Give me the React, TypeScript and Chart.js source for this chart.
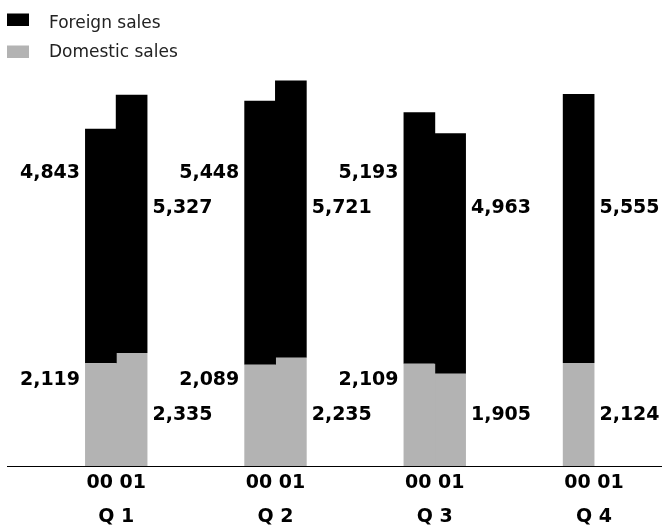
import React, { useEffect, useRef } from "react";
import { Chart, registerables } from "chart.js";

Chart.register(...registerables);

// ---- data ----
const quarters = ["Q 1", "Q 2", "Q 3", "Q 4"];
const years = ["00", "01"];
const domestic00 = [2119, 2089, 2109, 2124];
const foreign00 = [4843, 5448, 5193, 5555];
const domestic01: (number | null)[] = [2335, 2235, 1905, null];
const foreign01: (number | null)[] = [5327, 5721, 4963, null];
const seriesNames = { foreign: "Foreign sales", domestic: "Domestic sales" };

const FOREIGN_COLOR = "#000000";
const DOMESTIC_COLOR = "#b3b3b3";
const FONT = "DejaVu Sans";

const toPoints = (arr: (number | null)[]) => arr.map((y, i) => ({ x: i, y }));

const valueLabelPlugin = {
  id: "valueLabels",
  afterDatasetsDraw(chart: any) {
    const ctx = chart.ctx;
    const bottom = chart.chartArea.bottom;
    const datasets = chart.data.datasets;
    ctx.save();
    ctx.font = `bold 19px "${FONT}"`;
    ctx.fillStyle = "#000";
    ctx.textBaseline = "middle";
    datasets.forEach((ds: any, di: number) => {
      const meta = chart.getDatasetMeta(di);
      meta.data.forEach((bar: any, i: number) => {
        const v = ds.data[i].y;
        if (v == null) return;
        const is01 = ds.stack === years[1];
        const partnerMissing =
          !is01 && datasets.some((o: any) => o.stack === years[1] && o.data[i].y == null);
        const right = is01 || partnerMissing;
        const isForeign = ds.label === seriesNames.foreign;
        const rowOffset = isForeign ? (right ? 258 : 293) : right ? 51 : 86;
        const { x, width } = bar.getProps(["x", "width"], true);
        ctx.textAlign = right ? "left" : "right";
        ctx.fillText(
          v.toLocaleString("en-US"),
          right ? x + width / 2 + 5 : x - width / 2 - 5,
          bottom - rowOffset
        );
      });
    });
    ctx.restore();
  },
};

const legendPlugin = {
  id: "customLegend",
  afterDraw(chart: any) {
    const ctx = chart.ctx;
    const seen: { label: string; color: string }[] = [];
    chart.data.datasets.forEach((ds: any) => {
      if (!seen.find((s) => s.label === ds.label)) seen.push({ label: ds.label, color: ds.backgroundColor });
    });
    seen.reverse();
    ctx.save();
    ctx.font = `17px "${FONT}"`;
    ctx.textBaseline = "alphabetic";
    ctx.textAlign = "left";
    seen.forEach((item, i) => {
      const top = 13.5 + i * 32;
      ctx.fillStyle = item.color;
      ctx.fillRect(7, top, 22, 12.5);
      ctx.fillStyle = "#222";
      ctx.fillText(item.label, 49, 28.3 + i * 28.4);
    });
    ctx.restore();
  },
};

export default function App() {
  const canvasRef = useRef<HTMLCanvasElement | null>(null);

  useEffect(() => {
    if (!canvasRef.current) return;
    const chart = new Chart(canvasRef.current, {
      type: "bar",
      data: {
        datasets: [
          { label: seriesNames.domestic, stack: years[0], data: toPoints(domestic00), backgroundColor: DOMESTIC_COLOR },
          { label: seriesNames.foreign, stack: years[0], data: toPoints(foreign00), backgroundColor: FOREIGN_COLOR },
          { label: seriesNames.domestic, stack: years[1], data: toPoints(domestic01), backgroundColor: DOMESTIC_COLOR },
          { label: seriesNames.foreign, stack: years[1], data: toPoints(foreign01), backgroundColor: FOREIGN_COLOR },
        ] as any,
      },
      options: {
        responsive: true,
        maintainAspectRatio: false,
        animation: false,
        layout: { padding: { top: 30, left: 7, right: 0, bottom: 0 } },
        datasets: { bar: { categoryPercentage: 0.386, barPercentage: 1.03, borderWidth: 0 } } as any,
        scales: {
          x: {
            type: "linear",
            stacked: true,
            offset: false,
            min: -0.686,
            max: 3.427,
            afterBuildTicks: (s: any) => {
              s.ticks = quarters.map((_, i) => ({ value: i }));
            },
            afterFit: (s: any) => {
              s.height = 63;
            },
            grid: { display: false, drawTicks: false },
            border: { display: true, color: "#000", width: 1 },
            ticks: {
              autoSkip: false,
              maxRotation: 0,
              padding: 1,
              color: "#000",
              font: { family: FONT, size: 19, weight: "bold", lineHeight: 1.74 },
              callback: (v: any) => [years.join(" "), quarters[Math.round(v)]],
            },
          },
          y: { display: false, stacked: true, min: 0, max: 9000 },
        },
        plugins: { legend: { display: false }, tooltip: { enabled: false } },
      },
      plugins: [valueLabelPlugin, legendPlugin],
    });
    return () => chart.destroy();
  }, []);

  return (
    <div style={{ position: "absolute", left: 0, top: 0, width: 662, height: 529, background: "#fff" }}>
      <canvas ref={canvasRef} />
    </div>
  );
}
